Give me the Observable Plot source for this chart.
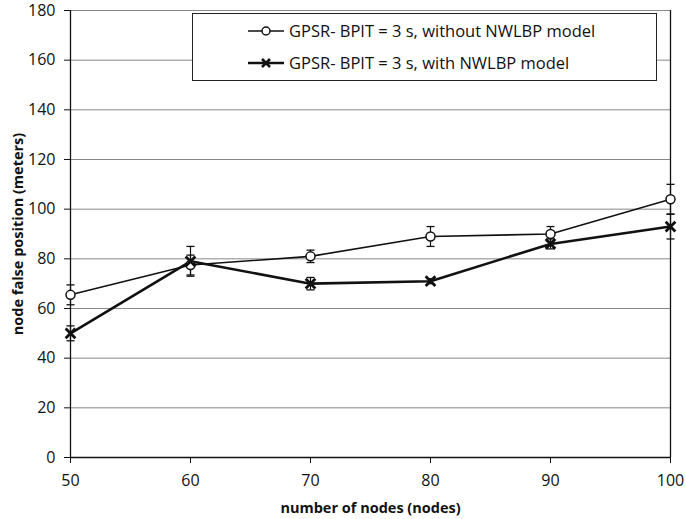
<!DOCTYPE html>
<html>
<head>
<meta charset="utf-8">
<script src="https://cdn.jsdelivr.net/npm/d3@7"></script>
<script src="https://cdn.jsdelivr.net/npm/@observablehq/plot@0.6"></script>
<style>
  html, body { margin: 0; padding: 0; background: #fff; }
  #wrap { position: relative; width: 685px; height: 519px; font-family: "Open Sans", sans-serif; }
  #legend { position: absolute; left: 192px; top: 13px; width: 465px; height: 68px; border: 1.5px solid #222; background: #fff; box-sizing: border-box; font-size: 16.5px; color: #111; }
  .row { position: absolute; left: 54px; display: flex; align-items: center; white-space: nowrap; }
  .row svg { margin-right: 4px; }
  g[aria-label="y-axis tick label"], g[aria-label="x-axis tick label"] { font-size: 16px; }
</style>
</head>
<body>
<div id="wrap"></div>
<script>
const nodes = [50, 60, 70, 80, 90, 100];
const withoutModel = [65.5, 77.5, 81, 89, 90, 104];
const withoutErr = [4, 4, 2.5, 4, 3, 6];
const withModel = [50, 79, 70, 71, 86, 93];
const withErr = [3, 6, 2.5, 1, 2, 5];
const seriesNames = ["GPSR- BPIT = 3 s, without NWLBP model", "GPSR- BPIT = 3 s, with NWLBP model"];
const yTicks = [0, 20, 40, 60, 80, 100, 120, 140, 160, 180];

const A = nodes.map((n, i) => ({x: n, y: withoutModel[i], e: withoutErr[i]}));
const B = nodes.map((n, i) => ({x: n, y: withModel[i], e: withErr[i]}));

const cap = {draw(ctx, size) { ctx.moveTo(-4, 0); ctx.lineTo(4, 0); }};
const caps = (d) => d.flatMap(p => [{x: p.x, y: p.y + p.e}, {x: p.x, y: p.y - p.e}]);

const chart = Plot.plot({
  width: 685, height: 519,
  marginLeft: 70, marginRight: 15, marginTop: 10, marginBottom: 62,
  style: {fontFamily: "Open Sans, sans-serif", fontSize: "15px", color: "#111", background: "#fff", overflow: "visible"},
  x: {domain: [50, 100], ticks: nodes, label: null},
  y: {domain: [0, 180], ticks: yTicks, label: null},
  marks: [
    Plot.gridY(yTicks, {stroke: "#888", strokeOpacity: 1, strokeWidth: 1}),
    Plot.ruleX([100], {stroke: "#111", strokeWidth: 1.3}),
    Plot.axisY({ticks: yTicks, tickSize: 6, tickPadding: 9, label: null, fontSize: 16, fill: "#111"}),
    Plot.axisX({ticks: nodes, tickSize: 6, tickPadding: 11, label: null, fontSize: 16, fill: "#111"}),
    Plot.ruleY([0], {stroke: "#111", strokeWidth: 1.3}),
    Plot.ruleX([50], {stroke: "#111", strokeWidth: 1.3}),
    // error bars
    Plot.ruleX(A, {x: "x", y1: d => d.y - d.e, y2: d => d.y + d.e, stroke: "#111", strokeWidth: 1.2}),
    Plot.ruleX(B, {x: "x", y1: d => d.y - d.e, y2: d => d.y + d.e, stroke: "#111", strokeWidth: 1.2}),
    Plot.dot(caps(A), {x: "x", y: "y", symbol: cap, stroke: "#111", strokeWidth: 1.3, r: 4}),
    Plot.dot(caps(B), {x: "x", y: "y", symbol: cap, stroke: "#111", strokeWidth: 1.3, r: 4}),
    // lines
    Plot.line(A, {x: "x", y: "y", stroke: "#111", strokeWidth: 1.6}),
    Plot.line(B, {x: "x", y: "y", stroke: "#111", strokeWidth: 2.6}),
    Plot.dot(A, {x: "x", y: "y", r: 4.5, stroke: "#111", fill: "white", strokeWidth: 1.5}),
    Plot.dot(B, {x: "x", y: "y", symbol: "times", r: 4.5, stroke: "#111", strokeWidth: 2.8}),
    Plot.text(["number of nodes (nodes)"], {frameAnchor: "bottom", dy: 55, fontWeight: "bold", fontSize: 14.5, fill: "#111"}),
    Plot.text(["node false position (meters)"], {frameAnchor: "left", textAnchor: "middle", dx: -52, rotate: -90, fontWeight: "bold", fontSize: 14.5, fill: "#111"})
  ]
});
chart.querySelectorAll('g[aria-label="y-axis tick label"], g[aria-label="x-axis tick label"]').forEach(g => { g.setAttribute("font-size", "16"); g.style.fontSize = "16px"; });
const wrap = document.getElementById("wrap");
wrap.appendChild(chart);

const legend = document.createElement("div");
legend.id = "legend";
const sym = [
  '<svg width="38" height="12"><line x1="1" y1="6" x2="37" y2="6" stroke="#111" stroke-width="1.6"/><circle cx="19" cy="6" r="4" fill="white" stroke="#111" stroke-width="1.5"/></svg>',
  '<svg width="38" height="12"><line x1="1" y1="6" x2="37" y2="6" stroke="#111" stroke-width="2.6"/><path d="M15,2L23,10M23,2L15,10" stroke="#111" stroke-width="2.6"/></svg>'
];
seriesNames.forEach((name, i) => {
  const r = document.createElement("div");
  r.className = "row";
  r.style.top = (i === 0 ? 5 : 37) + "px";
  r.innerHTML = sym[i] + "<span>" + name + "</span>";
  legend.appendChild(r);
});
wrap.appendChild(legend);
</script>
</body>
</html>
